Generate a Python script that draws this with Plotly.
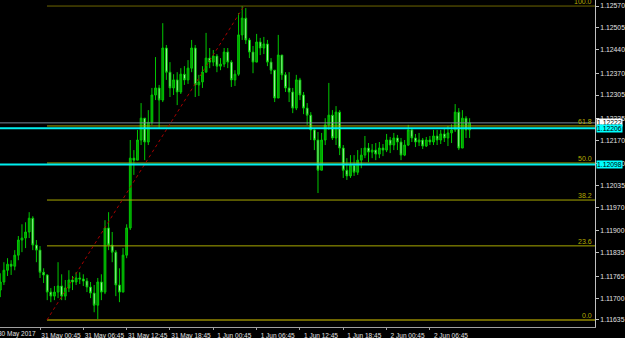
import pandas as pd
import plotly.graph_objects as go

# ---------------- data (EURUSD, 30-minute bars) ----------------
first_open = 1.11724
close = [1.11748, 1.11783, 1.11801, 1.11795, 1.11828, 1.11873, 1.11879, 1.11897, 1.11938, 1.11858,
         1.11843, 1.11777, 1.11769, 1.11718, 1.11706, 1.11718, 1.11736, 1.11706, 1.11730, 1.11754,
         1.11748, 1.11760, 1.11757, 1.11751, 1.11733, 1.11715, 1.11679, 1.11748, 1.11718, 1.11909,
         1.11858, 1.11837, 1.11739, 1.11718, 1.11828, 1.11909, 1.12117, 1.12111, 1.12171, 1.12236,
         1.12165, 1.12224, 1.12305, 1.12326, 1.12290, 1.12445, 1.12373, 1.12326, 1.12350, 1.12314,
         1.12367, 1.12350, 1.12385, 1.12445, 1.12335, 1.12344, 1.12373, 1.12415, 1.12403, 1.12421,
         1.12391, 1.12397, 1.12433, 1.12403, 1.12350, 1.12367, 1.12484, 1.12534, 1.12469, 1.12433,
         1.12403, 1.12463, 1.12445, 1.12457, 1.12403, 1.12379, 1.12296, 1.12424, 1.12365, 1.12326,
         1.12314, 1.12266, 1.12350, 1.12305, 1.12266, 1.12245, 1.12201, 1.12171, 1.12081, 1.12171,
         1.12216, 1.12245, 1.12177, 1.12254, 1.12147, 1.12081, 1.12064, 1.12096, 1.12075, 1.12111,
         1.12126, 1.12147, 1.12135, 1.12141, 1.12129, 1.12147, 1.12141, 1.12171, 1.12156, 1.12177,
         1.12165, 1.12126, 1.12156, 1.12201, 1.12177, 1.12165, 1.12171, 1.12153, 1.12171, 1.12165,
         1.12183, 1.12171, 1.12189, 1.12177, 1.12192, 1.12201, 1.12254, 1.12147, 1.12236, 1.12201,
         1.12222]
high = [1.11774, 1.11807, 1.11819, 1.11813, 1.11843, 1.11885, 1.11920, 1.11926, 1.11956, 1.11944,
        1.11873, 1.11855, 1.11789, 1.11771, 1.11730, 1.11736, 1.11807, 1.11771, 1.11754, 1.11783,
        1.11766, 1.11777, 1.11777, 1.11771, 1.11760, 1.11748, 1.11739, 1.11760, 1.11771, 1.11932,
        1.11956, 1.11897, 1.11843, 1.11789, 1.11849, 1.11920, 1.12171, 1.12141, 1.12201, 1.12281,
        1.12236, 1.12260, 1.12326, 1.12418, 1.12335, 1.12519, 1.12454, 1.12403, 1.12367, 1.12373,
        1.12385, 1.12391, 1.12409, 1.12469, 1.12454, 1.12365, 1.12391, 1.12490, 1.12445, 1.12439,
        1.12427, 1.12415, 1.12445, 1.12445, 1.12409, 1.12379, 1.12549, 1.12570, 1.12564, 1.12475,
        1.12451, 1.12487, 1.12475, 1.12478, 1.12469, 1.12415, 1.12379, 1.12484, 1.12424, 1.12373,
        1.12373, 1.12326, 1.12365, 1.12356, 1.12314, 1.12281, 1.12254, 1.12207, 1.12195, 1.12192,
        1.12236, 1.12341, 1.12260, 1.12272, 1.12260, 1.12156, 1.12117, 1.12126, 1.12126, 1.12141,
        1.12147, 1.12183, 1.12162, 1.12159, 1.12162, 1.12165, 1.12159, 1.12189, 1.12180, 1.12192,
        1.12186, 1.12177, 1.12171, 1.12216, 1.12207, 1.12189, 1.12192, 1.12177, 1.12180, 1.12183,
        1.12201, 1.12201, 1.12201, 1.12207, 1.12213, 1.12218, 1.12278, 1.12266, 1.12260, 1.12242,
        1.12236]
low = [1.11703, 1.11739, 1.11766, 1.11769, 1.11783, 1.11813, 1.11837, 1.11849, 1.11879, 1.11843,
       1.11807, 1.11760, 1.11745, 1.11694, 1.11688, 1.11694, 1.11700, 1.11694, 1.11694, 1.11718,
       1.11724, 1.11739, 1.11742, 1.11736, 1.11718, 1.11700, 1.11658, 1.11635, 1.11694, 1.11712,
       1.11843, 1.11807, 1.11706, 1.11688, 1.11718, 1.11819, 1.11903, 1.12067, 1.12126, 1.12156,
       1.12111, 1.12156, 1.12216, 1.12290, 1.12207, 1.12284, 1.12350, 1.12299, 1.12305, 1.12275,
       1.12308, 1.12335, 1.12338, 1.12373, 1.12299, 1.12302, 1.12326, 1.12373, 1.12385, 1.12391,
       1.12373, 1.12379, 1.12388, 1.12385, 1.12329, 1.12332, 1.12362, 1.12469, 1.12457, 1.12415,
       1.12370, 1.12421, 1.12424, 1.12427, 1.12391, 1.12367, 1.12284, 1.12299, 1.12350, 1.12314,
       1.12284, 1.12251, 1.12260, 1.12290, 1.12248, 1.12216, 1.12171, 1.12141, 1.12013, 1.12087,
       1.12156, 1.12201, 1.12171, 1.12156, 1.12126, 1.12058, 1.12052, 1.12058, 1.12064, 1.12067,
       1.12087, 1.12117, 1.12105, 1.12117, 1.12111, 1.12117, 1.12123, 1.12135, 1.12132, 1.12141,
       1.12141, 1.12111, 1.12123, 1.12153, 1.12165, 1.12150, 1.12153, 1.12144, 1.12150, 1.12156,
       1.12156, 1.12156, 1.12159, 1.12165, 1.12153, 1.12162, 1.12195, 1.12141, 1.12147, 1.12177,
       1.12177]
bar_start = "2017-05-30 19:15"

# price-axis tick labels (MT4 style)
price_labels = ["1.12570", "1.12505", "1.12440", "1.12370", "1.12305", "1.12235", "1.12170",
                "1.12100", "1.12035", "1.11970", "1.11900", "1.11835", "1.11765", "1.11700", "1.11635"]
# time-axis tick labels
time_ticks = ["2017-05-31 00:45", "2017-05-31 06:45", "2017-05-31 12:45", "2017-05-31 18:45",
              "2017-06-01 00:45", "2017-06-01 06:45", "2017-06-01 12:45", "2017-06-01 18:45",
              "2017-06-02 00:45", "2017-06-02 06:45"]
time_labels = ["31 May 00:45", "31 May 06:45", "31 May 12:45", "31 May 18:45",
               "1 Jun 00:45", "1 Jun 06:45", "1 Jun 12:45", "1 Jun 18:45",
               "2 Jun 00:45", "2 Jun 06:45"]
first_date_label = "30 May 2017"

# Fibonacci retracement
fib_low, fib_high = 1.11635, 1.12570
fib_t0, fib_t1 = "2017-05-31 01:43", "2017-06-01 05:00"
fib_levels = [0.0, 23.6, 38.2, 50.0, 61.8, 100.0]

# horizontal lines
hlines_cyan = [1.12206, 1.12098]
bid_price = 1.12222

x_range = ["2017-05-30 19:12:30", "2017-06-03 05:37"]
y_range = [1.11614, 1.12588]

# ---------------- figure ----------------
times = pd.date_range(bar_start, periods=len(close), freq="30min")
opens = [first_open] + close[:-1]
highs = [max(h, o, c) for h, o, c in zip(high, opens, close)]
lows = [min(l, o, c) for l, o, c in zip(low, opens, close)]

fig = go.Figure()
fig.add_trace(go.Candlestick(
    x=times, open=opens, high=highs, low=lows, close=close,
    increasing=dict(line=dict(color="#00c800", width=1), fillcolor="#009a00"),
    decreasing=dict(line=dict(color="#00c800", width=1), fillcolor="#c8ffc8"),
    whiskerwidth=0, hoverinfo="skip", showlegend=False,
))

shapes = []
annotations = []
fib_text_col = "#b4ac00"
for lvl in fib_levels:
    price = fib_low + (fib_high - fib_low) * lvl / 100.0
    col = "#6e6600" if lvl in (0.0, 100.0) else "#a8a800"
    wid = 2 if lvl == 0.0 else 1
    shapes.append(dict(type="line", xref="x", yref="y", x0=fib_t0, x1=x_range[1],
                       y0=price, y1=price, line=dict(color=col, width=wid), layer="above"))
    annotations.append(dict(xref="paper", yref="y", x=1, y=price, xanchor="right", yanchor="bottom",
                            xshift=-1, yshift=-1, text=f"{lvl:.1f}", showarrow=False,
                            font=dict(family="Liberation Sans", size=7, color=fib_text_col)))

# diagonal fib trend line
shapes.append(dict(type="line", xref="x", yref="y", x0=fib_t0, y0=fib_low, x1=fib_t1, y1=fib_high,
                   line=dict(color="#a80000", width=1, dash="dot"), layer="above"))
# bid line
shapes.append(dict(type="line", xref="paper", yref="y", x0=0, x1=1, y0=bid_price, y1=bid_price,
                   line=dict(color="#778899", width=1), layer="above"))
for p in hlines_cyan:
    shapes.append(dict(type="line", xref="paper", yref="y", x0=0, x1=1, y0=p, y1=p,
                       line=dict(color="#00f0f0", width=2), layer="above"))

# price boxes on the axis
for p, bg in [(bid_price, "#ffffff"), (hlines_cyan[0], "#00ffff"), (hlines_cyan[1], "#00ffff")]:
    annotations.append(dict(xref="paper", yref="y", x=1, y=p, xanchor="left", yanchor="middle",
                            xshift=1, text=f"{p:.5f}", showarrow=False, bgcolor=bg, borderpad=0,
                            font=dict(family="Liberation Sans", size=6.8, color="#000000")))

# first date label (clipped at the left edge)
annotations.append(dict(xref="paper", yref="paper", x=0, y=0, xanchor="left", yanchor="top",
                        xshift=-4, yshift=-1, text=first_date_label, showarrow=False,
                        font=dict(family="Liberation Sans", size=6.5, color="#e0e0e0")))

fig.update_layout(
    width=625, height=338,
    margin=dict(l=0, r=30, t=0, b=11),
    paper_bgcolor="#000000", plot_bgcolor="#000000",
    shapes=shapes, annotations=annotations,
    showlegend=False,
    xaxis=dict(type="date", range=x_range, rangeslider=dict(visible=False),
               showgrid=False, zeroline=False, automargin=False,
               showline=True, linecolor="#a0a0a0", linewidth=1,
               ticks="outside", ticklen=2, tickcolor="#a0a0a0",
               tickvals=time_ticks, ticktext=time_labels, ticklabelshift=21, ticklabelstandoff=0,
               tickfont=dict(family="Liberation Sans", size=6.5, color="#e0e0e0")),
    yaxis=dict(side="right", range=y_range, showgrid=False, zeroline=False, automargin=False,
               showline=True, linecolor="#c0c0c0", linewidth=1,
               ticks="outside", ticklen=3, tickcolor="#c0c0c0",
               tickvals=[float(t) for t in price_labels], ticktext=price_labels,
               ticklabelstandoff=0,
               tickfont=dict(family="Liberation Sans", size=6.8, color="#e0e0e0")),
)

fig.write_html("out.html")
